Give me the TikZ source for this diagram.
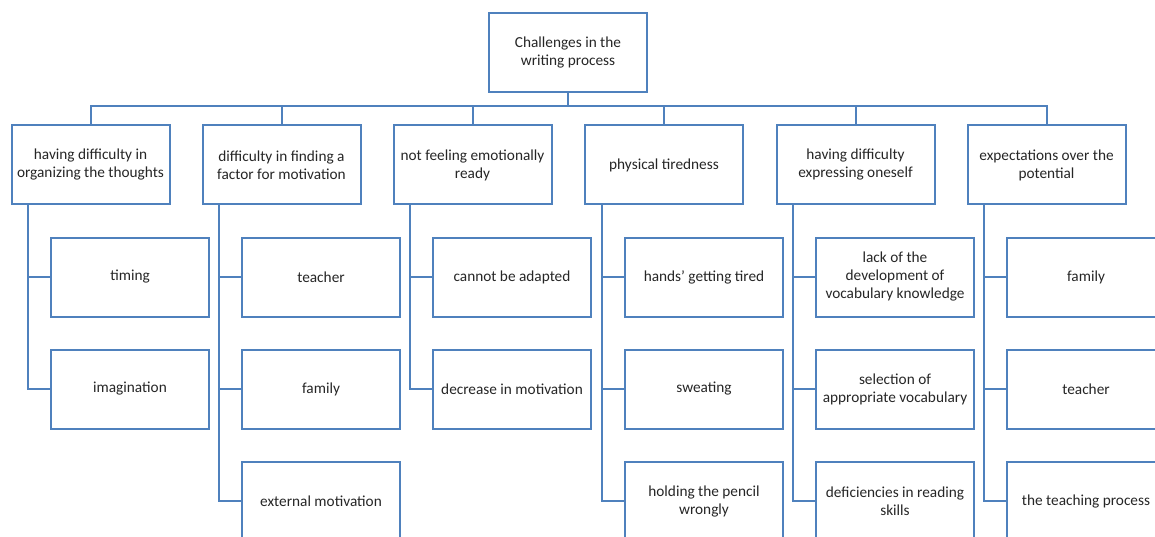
\documentclass[tikz,border=0pt]{standalone}
\usepackage{fontspec}
\setmainfont{Carlito}
\definecolor{boxblue}{HTML}{4F81BD}
\definecolor{txt}{HTML}{262626}
\begin{document}
\begin{tikzpicture}[x=1pt,y=-1pt,
  box/.style={draw=boxblue,line width=2pt,fill=white,minimum width=158pt,
    minimum height=79pt,align=center,inner sep=0pt,text=txt,
    font=\fontsize{15.3}{18}\selectfont},
  link/.style={draw=boxblue,line width=2pt}]
\path[use as bounding box,clip] (0,0) rectangle (1155,537);
% root
\node[box] (root) at (568,52.5) {Challenges in the\\writing process};
% first level
\node[box] (a) at (90.5,165)  {having difficulty in\\organizing the thoughts};
\node[box] (b) at (281.5,165) {difficulty in finding a\\factor for motivation};
\node[box] (c) at (472.5,165) {not feeling emotionally\\ready};
\node[box] (d) at (664,165)   {physical tiredness};
\node[box] (e) at (855.5,165) {having difficulty\\expressing oneself};
\node[box] (f) at (1046.5,165){expectations over the\\potential};
% bus between root and first level
\coordinate (bus) at (568,106);
\draw[link] (root.south) -- (bus);
\foreach \n in {a,b,c,d,e,f} \draw[link] (bus) -| (\n.north);
% second level
\node[box] (a1) at (130,277) {timing};
\node[box] (a2) at (130,389) {imagination};
\node[box] (b1) at (321,277) {teacher};
\node[box] (b2) at (321,389) {family};
\node[box] (b3) at (321,501) {external motivation};
\node[box] (c1) at (512,277) {cannot be adapted};
\node[box] (c2) at (512,389) {decrease in motivation};
\node[box] (d1) at (704,277) {hands’ getting tired};
\node[box] (d2) at (704,389) {sweating};
\node[box] (d3) at (704,501) {holding the pencil\\wrongly};
\node[box] (e1) at (895,277) {lack of the\\development of\\vocabulary knowledge};
\node[box] (e2) at (895,389) {selection of\\appropriate vocabulary};
\node[box] (e3) at (895,501) {deficiencies in reading\\skills};
\node[box] (f1) at (1086,277) {family};
\node[box] (f2) at (1086,389) {teacher};
\node[box] (f3) at (1086,501) {the teaching process};
% trunks from each first-level box to its children
\coordinate (ta) at (28,205);
\coordinate (tb) at (219,205);
\coordinate (tc) at (410,205);
\coordinate (td) at (602,205);
\coordinate (te) at (793,205);
\coordinate (tf) at (984,205);
\draw[link] (ta) |- (a1.west) (ta) |- (a2.west);
\draw[link] (tb) |- (b1.west) (tb) |- (b2.west) (tb) |- (b3.west);
\draw[link] (tc) |- (c1.west) (tc) |- (c2.west);
\draw[link] (td) |- (d1.west) (td) |- (d2.west) (td) |- (d3.west);
\draw[link] (te) |- (e1.west) (te) |- (e2.west) (te) |- (e3.west);
\draw[link] (tf) |- (f1.west) (tf) |- (f2.west) (tf) |- (f3.west);
\end{tikzpicture}
\end{document}
